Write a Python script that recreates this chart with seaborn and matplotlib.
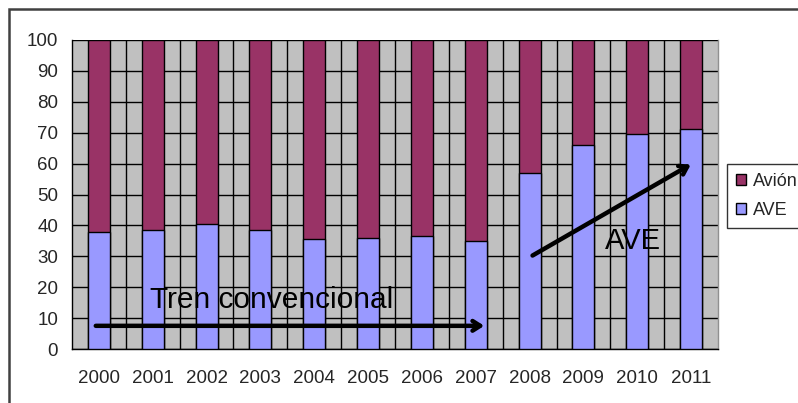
import matplotlib
matplotlib.use("Agg")
import matplotlib.pyplot as plt
import seaborn as sns
import pandas as pd
from matplotlib.patches import Rectangle, Patch

years = ["2000", "2001", "2002", "2003", "2004", "2005",
         "2006", "2007", "2008", "2009", "2010", "2011"]
ave = [37.9, 38.4, 40.3, 38.4, 35.6, 36.0, 36.6, 35.0, 57.0, 65.9, 69.7, 71.1]
avion = [100 - v for v in ave]
y_ticks = [0, 10, 20, 30, 40, 50, 60, 70, 80, 90, 100]

df = pd.DataFrame({"year": years, "AVE": ave, "Avion": avion})
df["total"] = df["AVE"] + df["Avion"]

sns.set_style("white")
plt.rcParams["font.family"] = ["Liberation Sans", "DejaVu Sans"]

fig = plt.figure(figsize=(7.98, 4.03), dpi=100)
ax = fig.add_axes([72/798, 1 - 349/403, (718 - 72)/798, (349 - 40)/403])
ax.set_facecolor("#C0C0C0")

c_avion = "#993366"
c_ave = "#9999FF"

sns.barplot(data=df, x="year", y="total", color=c_avion, width=0.41,
            edgecolor="black", linewidth=1.0, ax=ax, saturation=1, zorder=3)
sns.barplot(data=df, x="year", y="AVE", color=c_ave, width=0.41,
            edgecolor="black", linewidth=1.0, ax=ax, saturation=1, zorder=4)

ax.set_xlim(-0.5, len(years) - 0.5)
ax.set_ylim(0, 100)
ax.set_yticks(y_ticks)
ax.set_xlabel("")
ax.set_ylabel("")

# gridlines: horizontal at ticks, vertical at category boundaries
for t in y_ticks:
    ax.axhline(t, color="black", lw=1.0, zorder=1)
bounds = [i - 0.5 for i in range(len(years) + 1)]
ax.set_xticks(bounds, minor=True)
for b in bounds[1:-1]:
    ax.axvline(b, color="black", lw=1.0, zorder=1)

ax.tick_params(axis="x", which="major", length=0, pad=15, labelsize=13.5)
ax.tick_params(axis="x", which="minor", length=5, width=1, color="black", direction="out")
ax.tick_params(axis="y", which="major", length=6, width=1, color="black",
               direction="out", pad=4, labelsize=13.5)
ax.tick_params(axis="y", which="minor", length=0)

for s in ["left", "bottom"]:
    ax.spines[s].set_color("black")
    ax.spines[s].set_linewidth(1.0)
ax.spines["top"].set_visible(False)
ax.spines["right"].set_color("#909090")
ax.spines["right"].set_linewidth(1.0)

# annotations
ax.annotate("", xy=(7.21, 7.5), xytext=(-0.11, 7.5),
            arrowprops=dict(arrowstyle="->,head_length=0.55,head_width=0.35",
                            lw=3.2, color="black"), zorder=6)
ax.text(0.95, 13.3, "Tren convencional", fontsize=21.5, va="baseline", ha="left",
        color="black", zorder=6)
ax.annotate("", xy=(11.04, 60.2), xytext=(8.01, 29.8),
            arrowprops=dict(arrowstyle="->,head_length=0.55,head_width=0.35",
                            lw=3.2, color="black"), zorder=6)
ax.text(9.40, 32.4, "AVE", fontsize=21, va="baseline", ha="left",
        color="black", zorder=6)

handles = [Patch(facecolor=c_avion, edgecolor="black", label="Avión"),
           Patch(facecolor=c_ave, edgecolor="black", label="AVE")]
leg = fig.legend(handles=handles, loc="upper left",
                 bbox_to_anchor=(727/798, 1 - 164/403),
                 frameon=True, fancybox=False, fontsize=13,
                 handlelength=0.55, handleheight=0.55, handletextpad=0.4,
                 borderpad=0.5, labelspacing=0.65, borderaxespad=0)
leg.get_frame().set_edgecolor("black")
leg.get_frame().set_linewidth(1.0)

# outer chart frame
fig.patches.append(Rectangle((9/798, -0.1), 1.2, 1 - 9/403 + 0.1,
                             transform=fig.transFigure, fill=False,
                             edgecolor="#404040", lw=1.8, zorder=0))

fig.savefig("out.png", dpi=100)
